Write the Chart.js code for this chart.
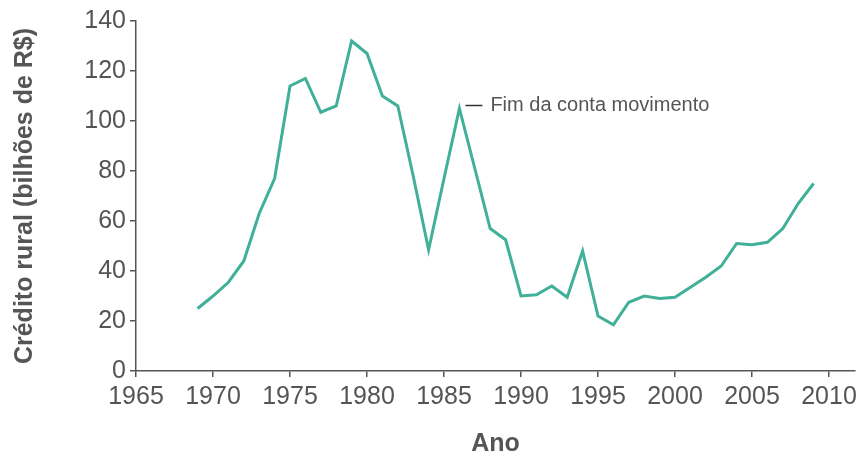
<!DOCTYPE html>
<html>
<head>
<meta charset="utf-8">
<script src="https://cdn.jsdelivr.net/npm/chart.js@4.4.1/dist/chart.umd.min.js"></script>
<style>
  html, body { margin: 0; padding: 0; background: #fff; }
  #wrap { width: 862px; height: 459px; }
</style>
</head>
<body>
<div id="wrap"><canvas id="creditChart"></canvas></div>
<script>
// Dados (crédito rural, bilhões de R$)
const anos = [1969, 1970, 1971, 1972, 1973, 1974, 1975, 1976, 1977, 1978,
              1979, 1980, 1981, 1982, 1983, 1984, 1985, 1986, 1987, 1988,
              1989, 1990, 1991, 1992, 1993, 1994, 1995, 1996, 1997, 1998,
              1999, 2000, 2001, 2002, 2003, 2004, 2005, 2006, 2007, 2008, 2009];
const credito = [25, 30, 35.5, 44, 63, 77, 114, 117, 103.5, 106,
                 132, 127, 110, 106, 78, 48.5, 77, 105, 81, 57,
                 52.5, 30, 30.5, 34, 29.5, 48, 22, 18.5, 27.5, 30,
                 29, 29.5, 33.5, 37.5, 42, 51, 50.5, 51.5, 57, 67, 75];

const anoTicks = [1965, 1970, 1975, 1980, 1985, 1990, 1995, 2000, 2005, 2010];
const creditoTicks = [0, 20, 40, 60, 80, 100, 120, 140];

const notaAno = 1986;
const notaTexto = 'Fim da conta movimento';

const textColor = '#555555';
const axisColor = '#555555';

// Nota "Fim da conta movimento" ao lado do pico de 1986
const notaPlugin = {
    id: 'nota',
    afterDatasetsDraw(chart) {
        const ctx = chart.ctx;
        const xs = chart.scales.x;
        const ys = chart.scales.y;
        const idx = anos.indexOf(notaAno);
        const px = xs.getPixelForValue(notaAno);
        const py = ys.getPixelForValue(credito[idx]);
        ctx.save();
        ctx.strokeStyle = '#333';
        ctx.lineWidth = 1.5;
        ctx.beginPath();
        ctx.moveTo(px + 6, py - 3);
        ctx.lineTo(px + 23, py - 3);
        ctx.stroke();
        ctx.fillStyle = textColor;
        ctx.font = '20px "Liberation Sans", Arial, sans-serif';
        ctx.textBaseline = 'middle';
        ctx.textAlign = 'left';
        ctx.fillText(notaTexto, px + 31, py - 3);
        ctx.restore();
    }
};

const ctx = document.getElementById('creditChart').getContext('2d');
const creditChart = new Chart(ctx, {
    type: 'line',
    data: {
        labels: anos,
        datasets: [{
            label: 'Crédito rural',
            data: anos.map((a, i) => ({ x: a, y: credito[i] })),
            borderColor: '#40b098',
            borderWidth: 3,
            pointRadius: 0,
            tension: 0,
            fill: false
        }]
    },
    options: {
        responsive: true,
        maintainAspectRatio: false,
        animation: false,
        layout: {
            padding: { top: 21, right: 5, bottom: 0, left: 0 }
        },
        plugins: {
            legend: { display: false },
            tooltip: { enabled: false }
        },
        scales: {
            x: {
                type: 'linear',
                min: 1965,
                max: 2011.7,
                afterFit: (scale) => { scale.height = 88; },
                afterBuildTicks: (scale) => {
                    scale.ticks = anoTicks.map(v => ({ value: v }));
                },
                border: { display: true, color: axisColor, width: 1.5 },
                grid: {
                    drawOnChartArea: false,
                    drawTicks: true,
                    tickLength: 6,
                    color: axisColor,
                    lineWidth: 1.5
                },
                ticks: {
                    color: textColor,
                    padding: 5,
                    maxRotation: 0,
                    autoSkip: false,
                    font: { family: '"Liberation Sans", Arial, sans-serif', size: 25 },
                    callback: (v) => String(v)
                },
                title: {
                    display: true,
                    text: 'Ano',
                    color: textColor,
                    padding: { top: 0, bottom: 0 },
                    font: { family: '"Liberation Sans", Arial, sans-serif', size: 25, weight: 'bold' }
                }
            },
            y: {
                min: 0,
                max: 140,
                afterFit: (scale) => { scale.width = 136; },
                afterBuildTicks: (scale) => {
                    scale.ticks = creditoTicks.map(v => ({ value: v }));
                },
                border: { display: true, color: axisColor, width: 1.5 },
                grid: {
                    drawOnChartArea: false,
                    drawTicks: true,
                    tickLength: 6,
                    color: axisColor,
                    lineWidth: 1.5
                },
                ticks: {
                    color: textColor,
                    padding: 4,
                    font: { family: '"Liberation Sans", Arial, sans-serif', size: 25 }
                },
                title: {
                    display: true,
                    text: 'Crédito rural (bilhões de R$)',
                    color: textColor,
                    padding: { top: 10, bottom: 0 },
                    font: { family: '"Liberation Sans", Arial, sans-serif', size: 25, weight: 'bold' }
                }
            }
        }
    },
    plugins: [notaPlugin]
});
</script>
</body>
</html>
